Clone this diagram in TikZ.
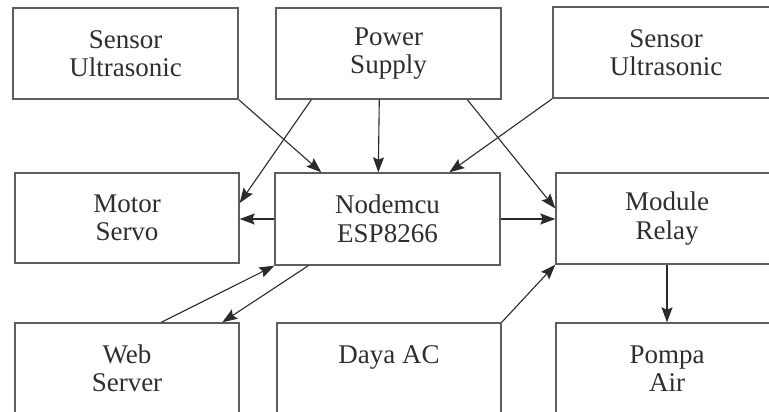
\documentclass[tikz,border=0pt]{standalone}
\usepackage{fontspec}
\setmainfont{Liberation Serif}
\usetikzlibrary{arrows.meta,calc}
\definecolor{boxline}{HTML}{5E5E5E}
\definecolor{txt}{HTML}{2E2E2E}
\definecolor{arr}{HTML}{2A2A2A}
\begin{document}
\begin{tikzpicture}[x=1pt,y=-1pt,
  blk/.style={draw=boxline,line width=1.4pt,minimum width=#1,minimum height=91pt,inner sep=0pt,
    align=center,text=txt,font=\fontsize{27}{28.5}\selectfont},
  blk/.default=225pt,
  conn/.style={draw=arr,line width=1.1pt,-{Stealth[length=15pt,width=11pt,inset=2.5pt]}}]
\useasboundingbox (0,0) rectangle (769,412);
\begin{scope}
\clip (0,0) rectangle (769,412);
\node[blk=225pt] (sl) at (125.5,53.5) {Sensor\\Ultrasonic};
\node[blk=225pt] (ps) at (388.5,53.5) {Power\\Supply};
\node[blk=226pt] (sr) at (666,52.5) {Sensor\\Ultrasonic};
\node[blk=224pt,minimum height=90pt] (ms) at (127,218) {Motor\\Servo};
\node[blk=225pt,minimum height=92pt] (nm) at (387.5,219) {Nodemcu\\ESP8266};
\node[blk=222pt] (mr) at (667,218.5) {Module\\Relay};
\node[blk=224pt] (ws) at (127,368.5) {Web\\Server};
\node[blk=224pt] (da) at (389,368.5) {Daya AC\\\mbox{}};
\node[blk=222pt] (pa) at (667,368.5) {Pompa\\Air};
\end{scope}
\draw[conn] (sl.south east) -- ([xshift=47pt]nm.north west);
\draw[conn] ([xshift=36pt]ps.south west) -- ([yshift=15pt]ms.east);
\draw[conn] ([xshift=104pt]ps.south west) -- ([xshift=104pt]nm.north west);
\draw[conn] ([xshift=192pt]ps.south west) -- ([yshift=10pt]mr.west);
\draw[conn] (sr.south west) -- ([xshift=175pt]nm.north west);
\draw[conn] (nm.west) -- (nm.west -| ms.east);
\draw[conn] (nm.east) -- (nm.east -| mr.west);
\draw[conn] ([xshift=147pt]ws.north west) -- (nm.south west);
\draw[conn] ([xshift=34pt]nm.south west) -- ([xshift=208pt]ws.north west);
\draw[conn] (da.north east) -- (mr.south west);
\draw[conn] (mr.south) -- (pa.north);
\end{tikzpicture}
\end{document}
